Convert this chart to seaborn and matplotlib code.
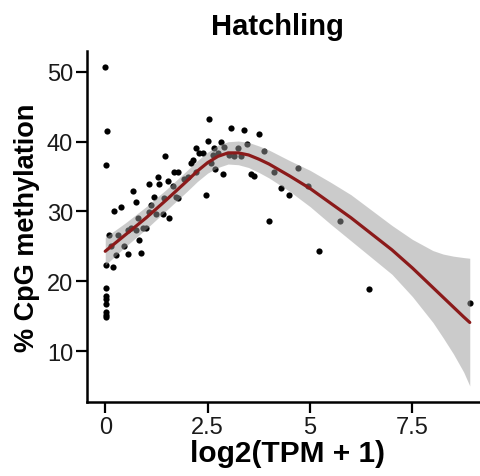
import matplotlib
matplotlib.use("Agg")
import matplotlib.pyplot as plt
import seaborn as sns
import pandas as pd

# genes: log2(TPM + 1) vs % CpG methylation
log_tpm = [0.00, 0.05, 0.02, 0.02, 0.19, 0.02, 0.02, 0.02, 0.02, 0.02, 0.02, 0.02,
           0.10, 0.32, 0.15, 0.46, 0.27, 0.56, 0.88, 0.83, 0.56, 0.63, 0.75, 0.92,
           1.00, 0.80, 0.22, 0.39, 1.07, 1.24, 1.41, 1.56, 1.12, 0.75, 0.68, 1.19,
           1.44, 1.73, 1.78, 2.46, 1.65, 1.07, 1.31, 1.29, 1.53, 1.92, 2.02, 1.68,
           1.78, 2.21, 2.09, 2.14, 2.58, 2.68, 2.87, 1.46, 2.21, 2.65, 2.82, 2.90,
           3.24, 2.38, 2.29, 2.63, 2.75, 3.02, 3.14, 3.31, 2.51, 2.53, 3.07, 3.38,
           3.75, 3.45, 3.87, 3.55, 3.62, 4.11, 4.70, 4.28, 4.48, 3.99, 4.94, 5.72,
           5.23, 6.45, 8.90]
methylation = [50.7, 41.6, 36.6, 22.4, 22.0, 19.1, 17.9, 17.4, 16.7, 15.6, 15.1, 14.9,
               26.7, 26.7, 25.0, 25.0, 23.7, 23.9, 24.0, 25.9, 27.4, 27.7, 27.3, 27.6,
               27.6, 29.1, 30.0, 30.6, 29.9, 29.7, 29.6, 29.0, 31.0, 31.3, 33.0, 32.1,
               31.9, 32.1, 32.0, 32.4, 33.6, 34.0, 34.0, 35.0, 34.3, 34.6, 34.9, 35.7,
               35.7, 35.7, 37.0, 37.4, 37.0, 36.1, 35.4, 38.0, 39.1, 39.1, 39.9, 39.3,
               39.1, 38.4, 38.4, 38.1, 38.4, 38.1, 37.9, 37.9, 40.1, 43.3, 41.9, 41.7,
               41.1, 39.7, 38.7, 35.4, 35.1, 35.6, 36.3, 33.4, 32.3, 28.7, 33.7, 28.6,
               24.3, 18.9, 16.9]

# smoothed fit and its confidence band
fit_x = [0.0, 0.5, 1.0, 1.5, 2.0, 2.25, 2.5, 2.75, 3.0, 3.25, 3.5, 3.75, 4.0,
         4.5, 5.0, 5.5, 6.0, 6.5, 7.0, 7.5, 8.0, 8.25, 8.5, 8.75, 8.9]
fit_y = [24.3, 26.7, 29.1, 31.7, 34.4, 35.8, 37.0, 37.9, 38.4, 38.4, 38.1, 37.5, 36.8,
         35.1, 33.3, 31.2, 29.1, 26.8, 24.5, 21.9, 19.1, 17.7, 16.3, 14.9, 14.1]
fit_lo = [22.3, 25.0, 27.5, 30.2, 32.9, 34.3, 35.5, 36.3, 36.8, 36.7, 36.3, 35.6, 34.8,
          32.9, 30.7, 28.2, 25.8, 23.4, 21.0, 17.8, 14.1, 11.9, 9.6, 7.0, 5.0]
fit_hi = [26.3, 28.4, 30.7, 33.2, 35.9, 37.3, 38.5, 39.5, 40.0, 40.1, 39.9, 39.4, 38.8,
          37.3, 35.9, 34.2, 32.4, 30.2, 28.0, 26.0, 24.4, 23.9, 23.6, 23.4, 23.3]

x_ticks = [0, 2.5, 5, 7.5]
x_tick_labels = ["0", "2.5", "5", "7.5"]
y_ticks = [10, 20, 30, 40, 50]

df = pd.DataFrame({"log_tpm": log_tpm, "meth": methylation})
fit = pd.DataFrame({"x": fit_x, "y": fit_y, "lo": fit_lo, "hi": fit_hi})

sns.set_style("ticks")
plt.rcParams["font.family"] = ["Liberation Sans", "DejaVu Sans"]
plt.rcParams["text.color"] = "black"
plt.rcParams["axes.labelcolor"] = "black"

fig = plt.figure(figsize=(4.8, 4.77), dpi=100)
ax = fig.add_axes([87 / 480, 1 - 403 / 477, (488 - 87) / 480, (403 - 52) / 477])

sns.scatterplot(data=df, x="log_tpm", y="meth", ax=ax, color="black", s=20,
                linewidth=0, zorder=2)
ax.fill_between(fit["x"], fit["lo"], fit["hi"], color="#999999", alpha=0.5,
                linewidth=0, zorder=3)
sns.lineplot(data=fit, x="x", y="y", ax=ax, color="#8B1A1A", linewidth=2.3, zorder=4)

ax.set_xlim(-0.445, 9.345)
ax.set_ylim(2.7, 53.0)
ax.set_xticks(x_ticks)
ax.set_xticklabels(x_tick_labels)
ax.set_yticks(y_ticks)
ax.tick_params(axis="both", labelsize=17, length=8, width=1.6, colors="black",
               labelcolor="#1a1a1a", pad=2)
for side in ["top", "right"]:
    ax.spines[side].set_visible(False)
for side in ["left", "bottom"]:
    ax.spines[side].set_linewidth(1.8)
    ax.spines[side].set_color("black")

ax.set_xlabel("log2(TPM + 1)", fontsize=21.5, fontweight="bold", labelpad=1)
ax.set_ylabel("% CpG methylation", fontsize=19.5, fontweight="bold", labelpad=5)
fig.text(277 / 480, 1 - 27 / 477, "Hatchling", fontsize=21, fontweight="bold",
         ha="center", va="center")

fig.savefig("out.png", dpi=100)
